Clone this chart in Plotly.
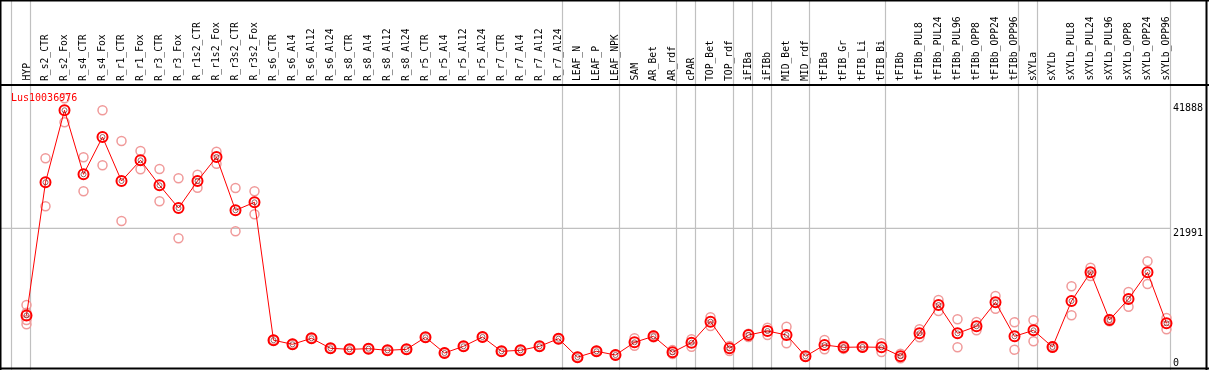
import plotly.graph_objects as go

categories = ["HYP", "R_s2_CTR", "R_s2_Fox", "R_s4_CTR", "R_s4_Fox", "R_r1_CTR", "R_r1_Fox",
              "R_r3_CTR", "R_r3_Fox", "R_r1s2_CTR", "R_r1s2_Fox", "R_r3s2_CTR", "R_r3s2_Fox",
              "R_s6_CTR", "R_s6_Al4", "R_s6_Al12", "R_s6_Al24", "R_s8_CTR", "R_s8_Al4", "R_s8_Al12",
              "R_s8_Al24", "R_r5_CTR", "R_r5_Al4", "R_r5_Al12", "R_r5_Al24", "R_r7_CTR", "R_r7_Al4",
              "R_r7_Al12", "R_r7_Al24", "LEAF_N", "LEAF_P", "LEAF_NPK", "SAM", "AR_Bet", "AR_rdf",
              "cPAR", "TOP_Bet", "TOP_rdf", "iFIBa", "iFIBb", "MID_Bet", "MID_rdf", "tFIBa",
              "tFIB_Gr", "tFIB_Li", "tFIB_Bi", "tFIBb", "tFIBb_PUL8", "tFIBb_PUL24", "tFIBb_PUL96",
              "tFIBb_OPP8", "tFIBb_OPP24", "tFIBb_OPP96", "sXYLa", "sXYLb", "sXYLb_PUL8",
              "sXYLb_PUL24", "sXYLb_PUL96", "sXYLb_OPP8", "sXYLb_OPP24", "sXYLb_OPP96"]

mean_values = [7300, 29745, 41888, 31093, 37380, 29964, 33454, 29239, 25411, 29964, 34011, 25023, 26372,
               3120, 2428, 3440, 1754, 1585, 1686, 1416, 1585, 3608, 961, 2091, 3659, 1248, 1416,
               2091, 3372, 260, 1248, 624, 2765, 3777, 1079, 2698, 6239, 1754, 3996, 4671, 3996,
               405, 2310, 1922, 1973, 1922, 430, 4283, 9055, 4283, 5463, 9510, 3777, 4789, 1973,
               9730, 14569, 6526, 10067, 14569, 5969]

rep_a = [9050, 33791, 43908, 33960, 41885, 36709, 35023, 31987, 30420, 31026, 34905, 28783, 28227,
         3200, 2500, 3500, 1820, 1650, 1750, 1480, 1650, 3680, 1030, 2160, 3720, 1310, 1480,
         2160, 3440, 330, 1320, 690, 3440, 3950, 1450, 3271, 6981, 2141, 4220, 5227, 5396,
         470, 3153, 2200, 2040, 2597, 843, 4957, 9898, 6644, 6188, 10573, 6138, 6475, 2100,
         12208, 15344, 6690, 11247, 16424, 6863]

rep_b = [5800, 25698, 39862, 28227, 32611, 23219, 31937, 26541, 20302, 28834, 32881, 21482, 24349,
         3050, 2360, 3380, 1690, 1520, 1620, 1350, 1520, 3540, 900, 2020, 3600, 1190, 1350,
         2020, 3300, 200, 1180, 560, 2192, 3600, 800, 2023, 5514, 1298, 3660, 3996, 2597,
         340, 1585, 1650, 1900, 1130, 67, 3608, 8043, 1922, 4789, 8431, 1518, 2934, 1850,
         7318, 13945, 6300, 8768, 12596, 4957]

rep_c = [7757] + [None] * 60
rep_d = [6526] + [None] * 60

# separators are drawn after these category indices (group ends)
group_ends = [-1, 0, 28, 31, 34, 35, 37, 38, 39, 41, 45, 52, 53, 60]

tick_values = [0, 21991, 41888]
tick_labels = ["0", "21991", "41888"]
gene_name = "Lus10036976"

W, H = 1209, 370
step = 19.0
x0px = 26.5
xa = -x0px / step
xb = xa + W / step
px_per_unit = 118.0 / (41888 - 21991)
zero_px = 358.7
ylo = -(H - zero_px) / px_per_unit
yhi = ylo + H / px_per_unit

xs = list(range(len(categories)))
fig = go.Figure()

rep_x, rep_y = [], []
for arr in (rep_a, rep_b, rep_c, rep_d):
    for i, v in enumerate(arr):
        if v is not None:
            rep_x.append(i)
            rep_y.append(v)

fig.add_trace(go.Scatter(x=rep_x, y=rep_y, mode="markers",
                         marker=dict(symbol="circle-open", size=9, color="#f09a9a",
                                     line=dict(width=1.5, color="#f09a9a")),
                         hoverinfo="skip", showlegend=False))
fig.add_trace(go.Scatter(x=xs, y=mean_values, mode="lines+markers",
                         line=dict(color="#ff0000", width=1),
                         marker=dict(symbol="circle-open", size=10, color="#ff0000",
                                     line=dict(width=2, color="#ff0000")),
                         showlegend=False))
fig.add_trace(go.Scatter(x=xs, y=mean_values, mode="markers",
                         marker=dict(symbol="circle-open", size=5, color="#550000",
                                     line=dict(width=1, color="#550000")),
                         opacity=0.6, hoverinfo="skip", showlegend=False))

shapes = []
for g in group_ends:
    shapes.append(dict(type="line", xref="x", yref="paper", x0=g + 4 / step, x1=g + 4 / step,
                       y0=0, y1=1, line=dict(color="#c0c0c0", width=1.2), layer="below"))
shapes.append(dict(type="line", xref="paper", yref="y", x0=0, x1=1170 / W,
                   y0=tick_values[1], y1=tick_values[1],
                   line=dict(color="#c0c0c0", width=1.2), layer="below"))
for yp in [0.5, 85, 368.5]:
    shapes.append(dict(type="line", xref="paper", yref="paper", x0=0, x1=1,
                       y0=1 - yp / H, y1=1 - yp / H, line=dict(color="black", width=2)))
for xp in [0.5, 1206.5]:
    shapes.append(dict(type="line", xref="paper", yref="paper", x0=xp / W, x1=xp / W,
                       y0=0, y1=1, line=dict(color="black", width=2)))

annotations = []
for i, c in enumerate(categories):
    annotations.append(dict(x=i, y=1 - 83 / H, xref="x", yref="paper", text=c, textangle=-90,
                            showarrow=False, xanchor="center", yanchor="bottom", xshift=-1,
                            font=dict(family="DejaVu Sans Mono", size=9.7, color="black")))
shifts = [-3.5, -4, 3]
for v, t, s in zip(tick_values, tick_labels, shifts):
    annotations.append(dict(x=1171 / W, y=v, xref="paper", yref="y", text=t, showarrow=False,
                            xanchor="left", yanchor="middle", yshift=s,
                            font=dict(family="DejaVu Sans Mono", size=10, color="black")))
annotations.append(dict(x=9 / W, y=1 - 97 / H, xref="paper", yref="paper", text=gene_name,
                        showarrow=False, xanchor="left", yanchor="middle",
                        font=dict(family="DejaVu Sans Mono", size=10, color="#ff0000")))

fig.update_layout(width=W, height=H, margin=dict(l=0, r=0, t=0, b=0),
                  plot_bgcolor="white", paper_bgcolor="white",
                  xaxis=dict(range=[xa, xb], visible=False, fixedrange=True),
                  yaxis=dict(range=[ylo, yhi], visible=False, fixedrange=True),
                  shapes=shapes, annotations=annotations)

fig.write_html("out.html", config={"displayModeBar": False},
               post_script="document.body.style.margin='0';document.body.style.overflow='hidden';")
